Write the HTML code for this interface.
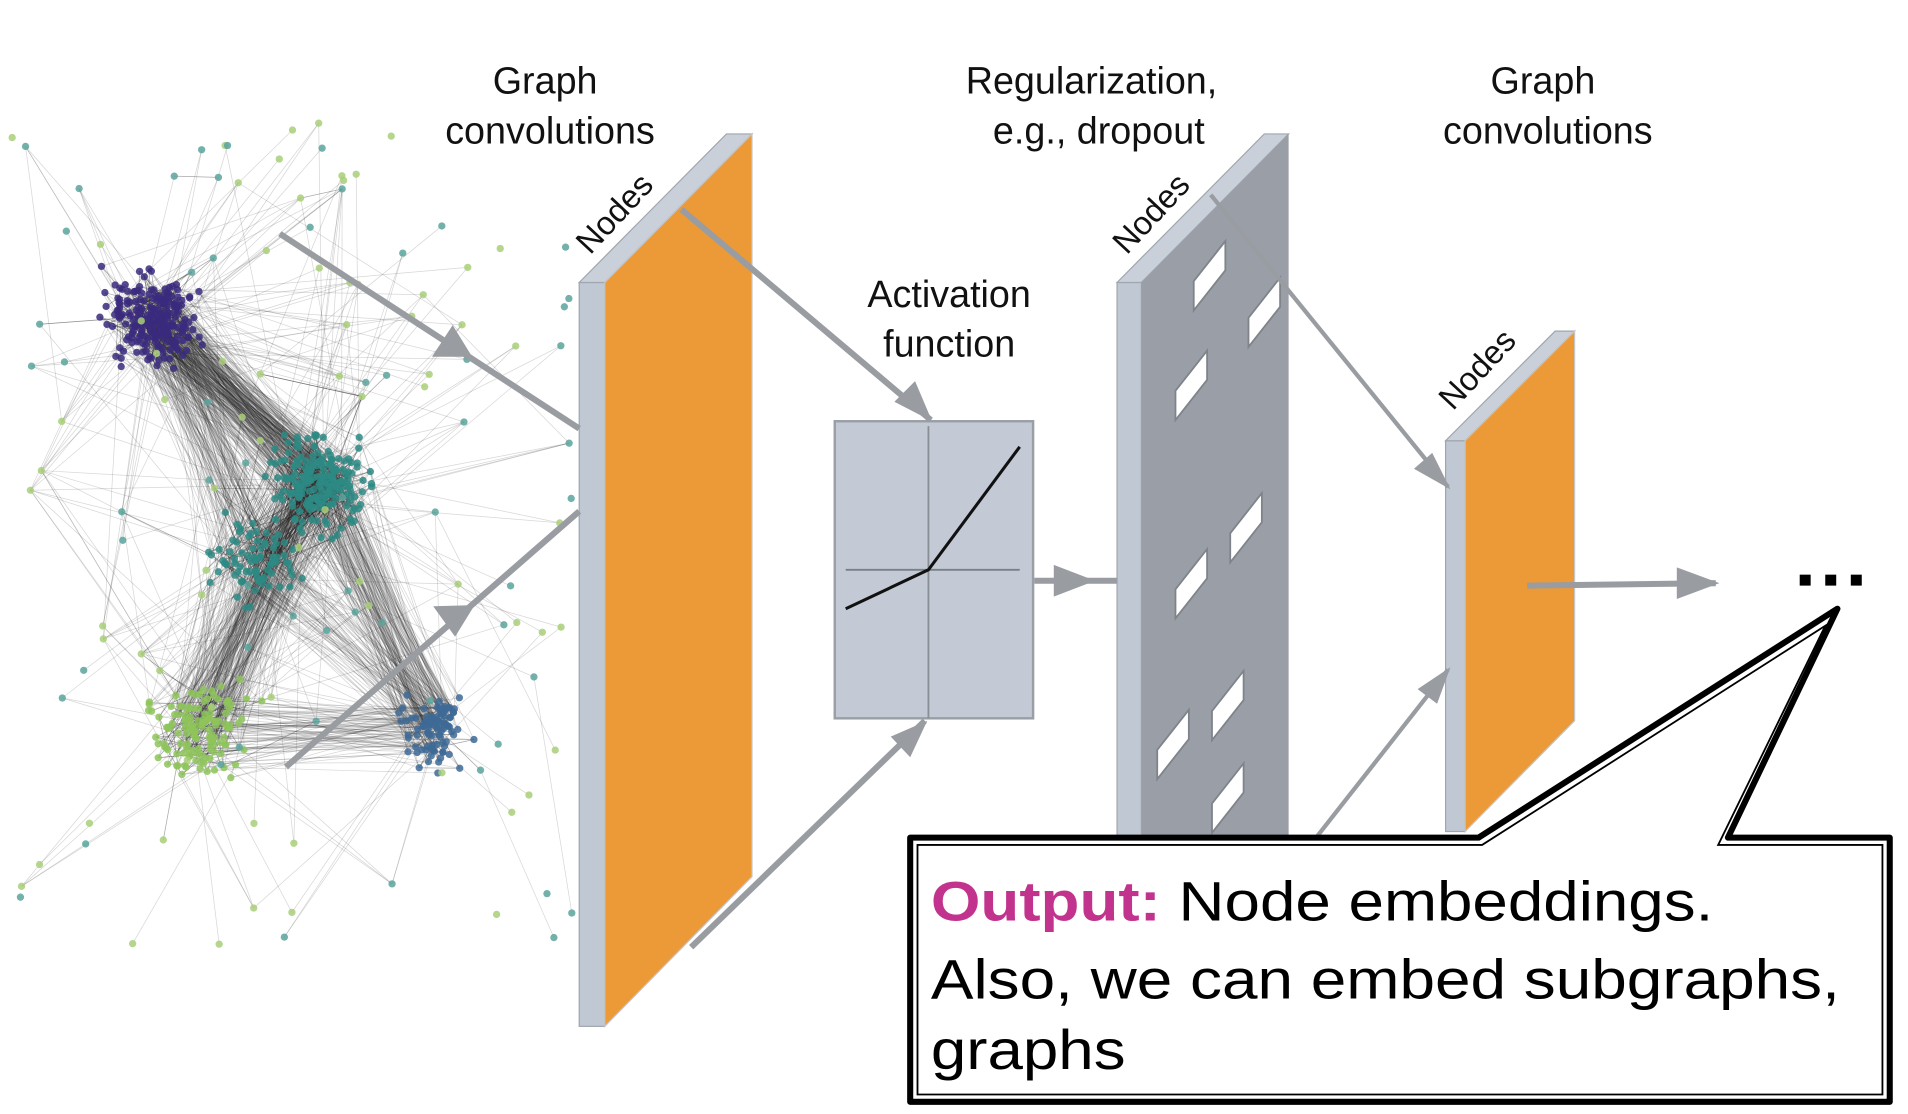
<!DOCTYPE html>
<html><head><meta charset="utf-8"><style>
html,body{margin:0;padding:0;background:#fff;}
svg{display:block;}
text{font-family:"Liberation Sans",sans-serif;}
</style></head><body>
<svg id="s" width="1908" height="1114" viewBox="0 0 1568 915" preserveAspectRatio="none" xmlns="http://www.w3.org/2000/svg">
<g id="net"></g>
<!-- labels -->
<g font-size="31" fill="#111" text-anchor="middle">
<text x="448" y="77">Graph</text><text x="452" y="118">convolutions</text>
<text x="897" y="77">Regularization,</text><text x="903" y="118">e.g., dropout</text>
<text x="1268" y="77">Graph</text><text x="1272" y="118">convolutions</text>
<text x="780" y="252">Activation</text><text x="780" y="293">function</text>
</g>
<!-- layer1 -->
<rect x="476" y="232" width="21" height="611" fill="#c0c8d4" stroke="#a0a6ae"/>
<polygon points="476,232 497,232 618,110 597,110" fill="#c9d0da" stroke="#a0a6ae"/>
<polygon points="497,232 618,110 618,720 497,843" fill="#ec9a38" stroke="#c5c5c5"/>
<text x="0" y="0" font-size="27" fill="#111" transform="translate(485,210) rotate(-47)">Nodes</text>
<!-- activation box -->
<rect x="686" y="346" width="163" height="244" fill="#c3cad5" stroke="#9a9ea5" stroke-width="2"/>
<line x1="763" y1="350" x2="763" y2="590" stroke="#8a8f96" stroke-width="1.5"/>
<line x1="695" y1="468" x2="838" y2="468" stroke="#7a7f86" stroke-width="1.5"/>
<polyline points="695,500 763,468 838,367" fill="none" stroke="#111" stroke-width="2.5"/>
<!-- layer2 -->
<rect x="918" y="232" width="20" height="470" fill="#c0c8d4" stroke="#a0a6ae"/>
<polygon points="918,232 938,232 1059,110 1039,110" fill="#c9d0da" stroke="#a0a6ae"/>
<polygon points="938,232 1059,110 1059,702 938,702" fill="#9a9fa7"/>
<g fill="#fff" stroke="#7f848b" stroke-width="1.5">
<polygon points="981,255 1007,222 1007,198 981,231"/>
</g>
<g id="holes" fill="#fff" stroke="#7f848b" stroke-width="1.5"></g>
<text x="0" y="0" font-size="27" fill="#111" transform="translate(926,210) rotate(-47)">Nodes</text>
<!-- layer3 -->
<rect x="1188" y="362" width="16" height="321" fill="#c0c8d4" stroke="#a0a6ae"/>
<polygon points="1188,362 1204,362 1294,272 1278,272" fill="#c9d0da" stroke="#a0a6ae"/>
<polygon points="1204,362 1294,272 1294,592 1204,683" fill="#ec9a38" stroke="#c5c5c5"/>
<text x="0" y="0" font-size="27" fill="#111" transform="translate(1194,338) rotate(-47)">Nodes</text>
<!-- arrows -->
<g stroke="#999ca1" stroke-width="5" fill="none">
<path d="M230,192 L476,352"/><path d="M235,630 L476,420"/>
<path d="M560,172 L765,345"/><path d="M568,778 L760,592"/>
<path d="M850,477 L918,477"/>
<path d="M995,160 L1190,400" stroke-width="3.5"/><path d="M1080,690 L1190,550" stroke-width="3.5"/>
<path d="M1255,481 L1410,479"/>
</g>
<g fill="#999ca1">
<polygon points="388,293 355,293 372,267"/>
<polygon points="390,497 374,523 356,498"/>
<polygon points="766,346 735,330 752,313"/>
<polygon points="762,592 748,622 732,605"/>
<polygon points="900,477 866,464 866,490"/>
<polygon points="1192,402 1162,385 1177,372"/>
<polygon points="1192,548 1181,578 1165,566"/>
<polygon points="1413,479 1378,466 1378,492"/>
</g>
<g fill="#000"><rect x="1479" y="472" width="9" height="9"/><rect x="1500" y="472" width="9" height="9"/><rect x="1521" y="472" width="9" height="9"/></g>
<!-- callout -->
<path d="M748,688 L1215,688 L1510,500 L1420,688 L1553,688 L1553,905 L748,905 Z" fill="#fff" stroke="#000" stroke-width="5" stroke-linejoin="round"/>
<path d="M754,694 L1218,694 L1500,514 L1412,694 L1547,694 L1547,899 L754,899 Z" fill="none" stroke="#000" stroke-width="1.5"/>
<g font-size="46" fill="#000">
<text x="765" y="756" textLength="643" lengthAdjust="spacingAndGlyphs"><tspan fill="#c2338e" font-weight="bold">Output:</tspan> Node embeddings.</text>
<text x="765" y="820" textLength="747" lengthAdjust="spacingAndGlyphs">Also, we can embed subgraphs,</text>
<text x="765" y="878" textLength="160" lengthAdjust="spacingAndGlyphs">graphs</text>
</g>
</svg>
<script>
(function(){
var ns="http://www.w3.org/2000/svg";
var H=document.getElementById('holes');
[[1026,285],[966,345],[1011,462],[966,508],[951,640],[996,608],[996,684]].forEach(function(p){
 var x=p[0],y=p[1],e=document.createElementNS(ns,'polygon');
 e.setAttribute('points',x+','+y+' '+(x+26)+','+(y-33)+' '+(x+26)+','+(y-57)+' '+x+','+(y-24));H.appendChild(e);});
var g=document.getElementById('net');var seed=7;function r(){seed=(seed*16807)%2147483647;return seed/2147483647;}
function gs(){return (r()+r()+r()-1.5)/1.5;}
var C=[[125,262,50,'#3b2a7e',220],[262,395,55,'#2d8a84',200],[165,600,55,'#8ec45a',130],[355,600,40,'#3e6a96',90],[210,460,55,'#2d8a84',80]];
var P=[];C.forEach(function(c){for(var i=0;i<c[4];i++)P.push([c[0]+gs()*c[2],c[1]+gs()*c[2],c[3]]);});
for(var i=0;i<130;i++){P.push([10+r()*460,100+r()*680,r()<.6?'#a8cf78':'#5aa39c']);}
var s='';
for(var i=0;i<2600;i++){var a=P[Math.floor(r()*P.length)],b=P[Math.floor(r()*P.length)];var d=Math.hypot(a[0]-b[0],a[1]-b[1]);if(d>260)continue;
 s+='<line x1="'+a[0].toFixed(1)+'" y1="'+a[1].toFixed(1)+'" x2="'+b[0].toFixed(1)+'" y2="'+b[1].toFixed(1)+'" stroke="#222" stroke-opacity="'+(d<90?0.4:0.18)+'" stroke-width="0.6"/>';}
P.forEach(function(p){s+='<circle cx="'+p[0].toFixed(1)+'" cy="'+p[1].toFixed(1)+'" r="3" fill="'+p[2]+'" fill-opacity="0.85"/>';});
g.innerHTML=s;})();
</script>
</body></html>
